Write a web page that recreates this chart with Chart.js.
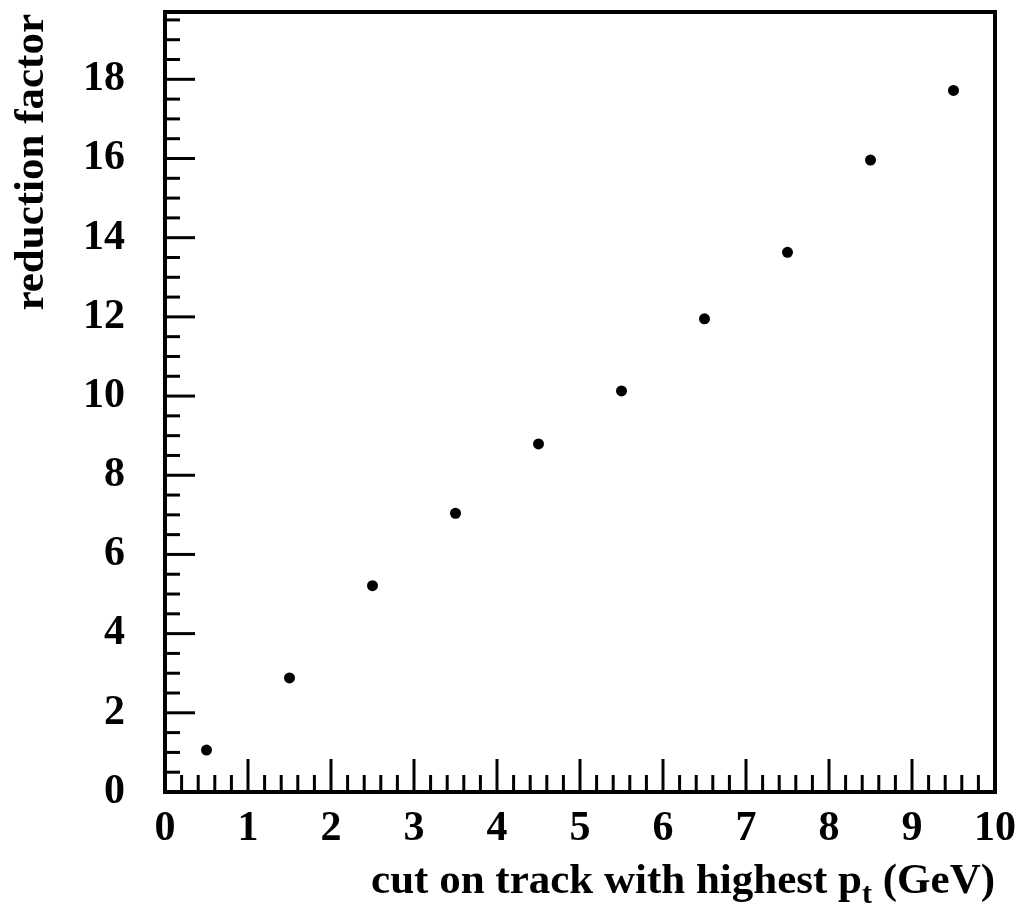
<!DOCTYPE html>
<html>
<head>
<meta charset="utf-8">
<script src="https://cdn.jsdelivr.net/npm/chart.js@4/dist/chart.umd.min.js"></script>
<style>
	html, body { margin: 0; padding: 0; background: #fff; }
	#wrap { width: 1021px; height: 916px; position: relative; }
</style>
</head>
<body>
<div id="wrap"><canvas id="chart"></canvas></div>
<script>
// cut on highest-pt track (GeV) vs reduction factor
const ptCut = [0.5, 1.5, 2.5, 3.5, 4.5, 5.5, 6.5, 7.5, 8.5, 9.5];
const reduction = [1.06, 2.88, 5.21, 7.04, 8.79, 10.13, 11.95, 13.63, 15.96, 17.72];

const xRange = [0, 10];
const yRange = [0, 19.7];

const xTitle = "cut on track with highest p";
const xTitleSub = "t";
const xTitleEnd = " (GeV)";
const yTitle = "reduction factor";

const FONT = "'Liberation Serif', 'Times New Roman', serif";

// ROOT-like frame with inward ticks on bottom and left only
const framePlugin = {
	id: "frame",
	beforeDatasetsDraw(chart) {
		const { ctx, chartArea: a, scales } = chart;
		const xs = scales.x;
		const ys = scales.y;
		ctx.save();
		ctx.strokeStyle = "#000";
		ctx.lineCap = "butt";

		// x ticks (minor every 0.2, major every 1)
		ctx.lineWidth = 3;
		for (let i = 0; i <= 50; i++) {
			const px = xs.getPixelForValue(i * 0.2);
			const len = i % 5 === 0 ? 33 : 17;
			ctx.beginPath();
			ctx.moveTo(px, a.bottom);
			ctx.lineTo(px, a.bottom - len);
			ctx.stroke();
		}

		// y ticks (minor every 0.5, major every 2)
		for (let i = 0; i * 0.5 <= yRange[1]; i++) {
			const py = ys.getPixelForValue(i * 0.5);
			const len = i % 4 === 0 ? 30 : 15;
			ctx.beginPath();
			ctx.moveTo(a.left, py);
			ctx.lineTo(a.left + len, py);
			ctx.stroke();
		}

		ctx.lineWidth = 4;
		ctx.strokeRect(a.left, a.top, a.right - a.left, a.bottom - a.top);
		ctx.restore();
	},
	afterDraw(chart) {
		const { ctx, chartArea: a } = chart;
		ctx.save();
		ctx.fillStyle = "#000";

		// x title, right aligned with the frame, with subscript
		const big = "bold 43px " + FONT;
		const small = "bold 30px " + FONT;
		ctx.font = big;
		const w1 = ctx.measureText(xTitle).width;
		const w3 = ctx.measureText(xTitleEnd).width;
		ctx.font = small;
		const w2 = ctx.measureText(xTitleSub).width;
		let x = a.right - (w1 + w2 + w3);
		const base = 893;
		ctx.textBaseline = "alphabetic";
		ctx.textAlign = "left";
		ctx.font = big;
		ctx.fillText(xTitle, x, base);
		x += w1;
		ctx.font = small;
		ctx.fillText(xTitleSub, x, base + 10);
		x += w2;
		ctx.font = big;
		ctx.fillText(xTitleEnd, x, base);

		// y title, rotated, aligned with top of frame
		ctx.translate(43, a.top + 2);
		ctx.rotate(-Math.PI / 2);
		ctx.textAlign = "right";
		ctx.font = big;
		ctx.fillText(yTitle, 0, 0);
		ctx.restore();
	}
};

const noPad = (scale) => {
	scale.paddingTop = 0;
	scale.paddingBottom = 0;
	scale.paddingLeft = 0;
	scale.paddingRight = 0;
};

const ctx = document.getElementById("chart").getContext("2d");

new Chart(ctx, {
	type: "scatter",
	data: {
		datasets: [
			{
				label: "reduction",
				data: ptCut.map((p, i) => ({ x: p, y: reduction[i] })),
				backgroundColor: "#000",
				borderColor: "#000",
				pointRadius: 5.5,
				pointHoverRadius: 5.5,
				borderWidth: 0,
			},
		],
	},
	options: {
		responsive: true,
		maintainAspectRatio: false,
		animation: false,
		layout: {
			padding: { top: 12, right: 26, left: 0, bottom: 0 },
		},
		plugins: {
			legend: { display: false },
			tooltip: { enabled: false },
		},
		scales: {
			x: {
				type: "linear",
				min: xRange[0],
				max: xRange[1],
				grid: { display: false, drawTicks: false },
				border: { display: false },
				ticks: {
					stepSize: 1,
					autoSkip: false,
					maxRotation: 0,
					padding: 12,
					color: "#000",
					font: { family: FONT, size: 42, weight: "bold" },
				},
				afterFit(scale) {
					scale.height = 124;
					noPad(scale);
				},
			},
			y: {
				type: "linear",
				min: yRange[0],
				max: yRange[1],
				grid: { display: false, drawTicks: false },
				border: { display: false },
				ticks: {
					stepSize: 2,
					includeBounds: false,
					autoSkip: false,
					padding: 40,
					color: "#000",
					font: { family: FONT, size: 42, weight: "bold" },
				},
				afterFit(scale) {
					scale.width = 165;
					noPad(scale);
				},
			},
		},
	},
	plugins: [framePlugin],
});
</script>
</body>
</html>
